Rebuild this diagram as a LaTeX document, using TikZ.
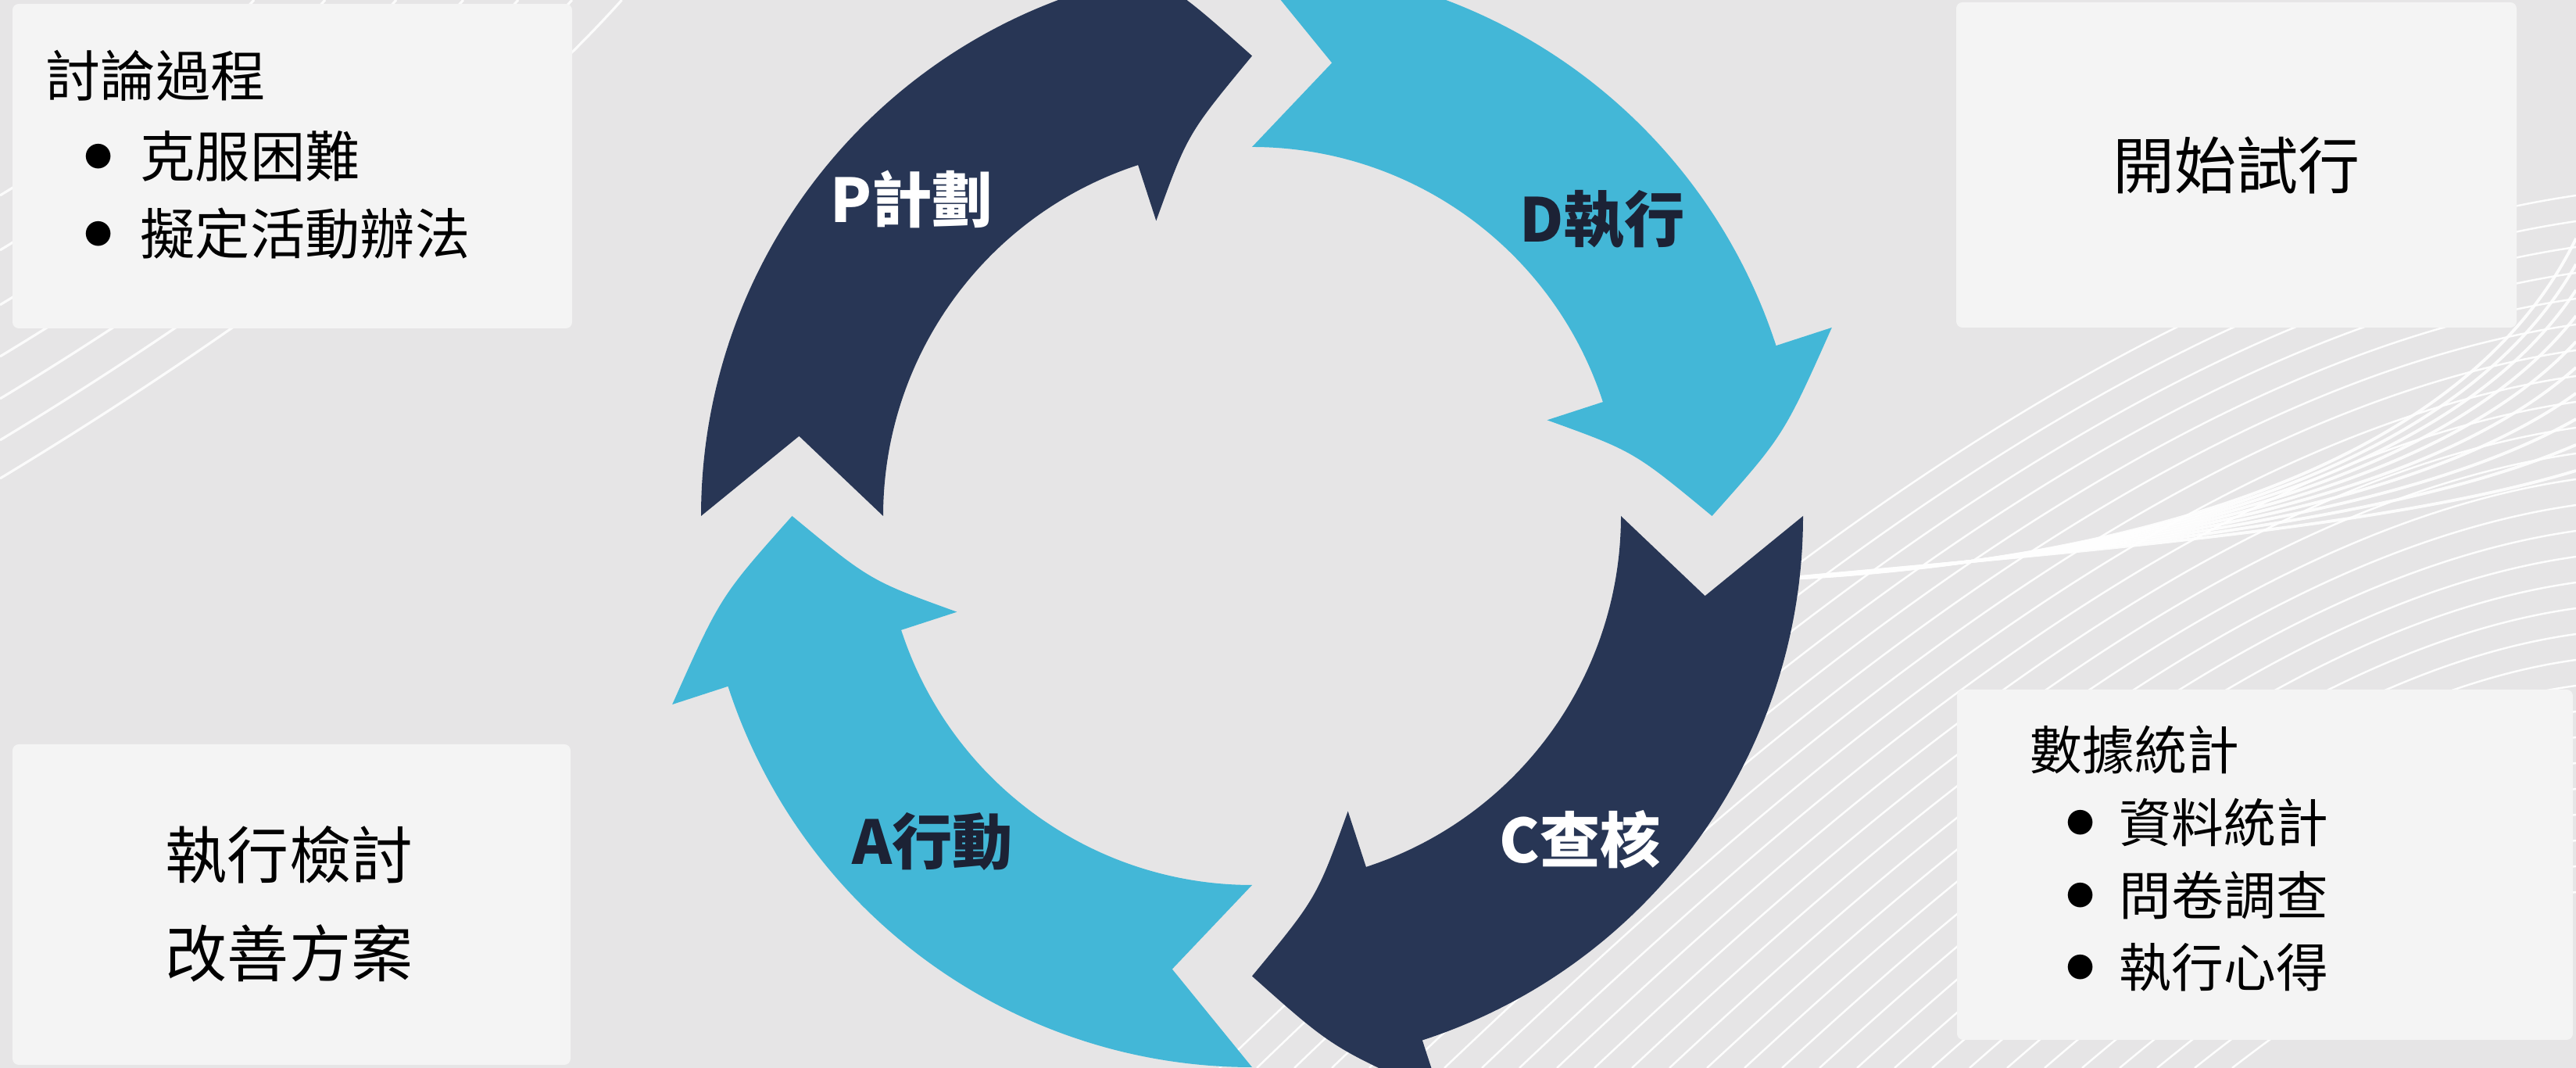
\documentclass[tikz,border=0pt]{standalone}
\usepackage{fontspec}
\usepackage{xcolor}
\usepackage{tikz}
\usetikzlibrary{positioning}
\newfontfamily\cjk{Noto Sans CJK TC}
\definecolor{navyArrow}{HTML}{283655}
\definecolor{cyanArrow}{HTML}{43B7D7}
\definecolor{pageBg}{HTML}{E6E5E6}
\definecolor{cardBg}{HTML}{F4F4F4}
\definecolor{darkLabel}{HTML}{1C2235}
\tikzstyle{card} = [rectangle, rounded corners=0.8mm, fill=cardBg, draw=none, inner sep=0pt]
\tikzstyle{cardtext} = [font=\cjk\fontsize{20pt}{24pt}\selectfont, text=black, inner sep=0pt]
\tikzstyle{smalltext} = [font=\cjk\fontsize{19pt}{23pt}\selectfont, text=black, inner sep=0pt]
\tikzstyle{bigtext} = [font=\cjk\fontsize{22.5pt}{35.8pt}\selectfont, text=black, align=center, inner sep=0pt]
\tikzstyle{dot} = [font=\cjk\fontsize{10pt}{12pt}\selectfont, text=black, inner sep=0pt]
\tikzstyle{phase} = [font=\cjk\bfseries\fontsize{22pt}{26pt}\selectfont, inner sep=0pt]
\tikzstyle{bgline} = [white, line width=0.9pt, opacity=0.85]
\tikzstyle{fineline} = [white, line width=0.7pt, opacity=0.95]
\tikzstyle{ribbon} = [white, line width=1.1pt, opacity=0.9]
% one bent arrow of the cycle: #1 = angle of the tail, #2 = colour
\newcommand\cycArrow[2]{%
	\fill[#2, shift={(ctr)}]
	({#1}:7.05) arc[start angle={#1}, end angle={#1-72}, radius=7.05]
	-- ({#1-72}:7.80)
	.. controls ({#1-81.4}:6.88) .. ({#1-90}:5.885)
	.. controls ({#1-80.4}:4.955) .. ({#1-72}:3.97)
	-- ({#1-72}:4.72) arc[start angle={#1-72}, end angle={#1}, radius=4.72]
	-- ({#1-10}:5.885) -- cycle;
}

\begin{document}
\begin{tikzpicture}
\useasboundingbox (0,0) rectangle (32.96,13.66);
\clip (0,0) rectangle (32.96,13.66);
\fill[pageBg] (0,0) rectangle (32.96,13.66);
%----------------------------------------------------------------------------
% Background lines
\foreach \yy in {2.5,3.2,3.9,4.56,5.1,5.63,6.12} {
	\pgfmathsetmacro\xe{1.3*\yy}
	\draw[bgline] (0,13.66-\yy) .. controls (0.375*\xe,13.66-0.706*\yy) and (0.775*\xe,13.66-0.327*\yy) .. (\xe,13.66);
}
\foreach \i in {0,...,27} {
	\pgfmathsetmacro\sx{15.6+0.48*\i}
	\pgfmathsetmacro\ey{13.66-2.5-0.33*\i}
	\pgfmathsetmacro\w{32.96-\sx}
	\draw[fineline] (\sx,0) .. controls (\sx+0.3*\w,0.45*\ey) and (\sx+0.65*\w,0.92*\ey) .. (32.96,\ey);
}
\foreach \i in {0,...,9} {
	\draw[ribbon] (22.7,6.25) .. controls (26.5,6.6-0.02*\i) and (30.5+0.1*\i,6.9+0.055*\i) .. (32.96,7.64+0.33*\i);
}

%----------------------------------------------------------------------------
% Cards
\node (planBox) [card, minimum width=7.16cm, minimum height=4.15cm] at (3.74,11.535) {};
\node (doBox) [card, minimum width=7.17cm, minimum height=4.16cm] at (28.615,11.55) {};
\node (actBox) [card, minimum width=7.14cm, minimum height=4.10cm] at (3.73,2.09) {};
\node (checkBox) [card, minimum width=7.88cm, minimum height=4.48cm] at (28.98,2.60) {};

%----------------------------------------------------------------------------
% PDCA cycle
\coordinate (ctr) at (16.02,7.06);
\cycArrow{180}{navyArrow}
\cycArrow{90}{cyanArrow}
\cycArrow{0}{navyArrow}
\cycArrow{-90}{cyanArrow}

\node (planLabel) [phase, text=white] at (11.66,11.11) {P計劃};
\node (doLabel) [phase, text=darkLabel] at (20.50,10.85) {D執行};
\node (checkLabel) [phase, text=white] at (20.22,2.92) {C查核};
\node (actLabel) [phase, text=darkLabel] at (11.93,2.90) {A行動};

%----------------------------------------------------------------------------
% Card texts
\node (planTitle) [cardtext, anchor=west] at (0.58,12.69) {討論過程};
\node (planDotA) [dot] at (1.26,11.66) {●};
\node (planItemA) [cardtext, anchor=west] at (1.79,11.66) {克服困難};
\node (planDotB) [dot] at (1.26,10.67) {●};
\node (planItemB) [cardtext, anchor=west] at (1.79,10.67) {擬定活動辦法};

\node (doText) [bigtext] at (doBox) {開始試行};

\node (actText) [bigtext] at (3.70,2.10) {執行檢討\\改善方案};

\node (checkTitle) [smalltext, anchor=west] at (25.97,4.07) {數據統計};
\node (checkDotA) [dot] at (26.62,3.14) {●};
\node (checkItemA) [smalltext, anchor=west] at (27.11,3.14) {資料統計};
\node (checkDotB) [dot] at (26.62,2.21) {●};
\node (checkItemB) [smalltext, anchor=west] at (27.11,2.21) {問卷調查};
\node (checkDotC) [dot] at (26.62,1.29) {●};
\node (checkItemC) [smalltext, anchor=west] at (27.11,1.29) {執行心得};
\end{tikzpicture}
\end{document}
